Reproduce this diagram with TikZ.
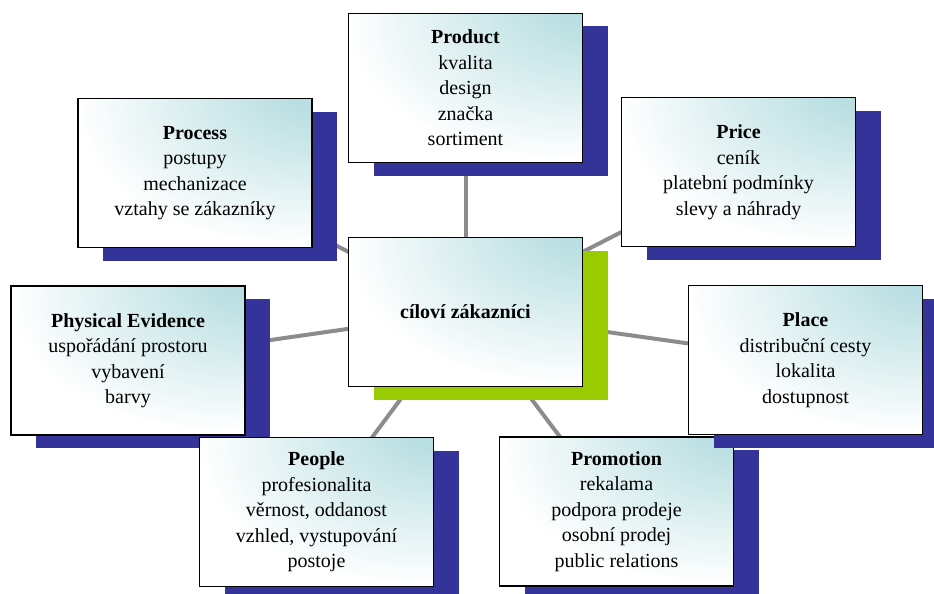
\documentclass[tikz,border=0pt]{standalone}
\usepackage{fontspec}
\setmainfont{Liberation Serif}
\usetikzlibrary{shadows,backgrounds}
\definecolor{boxteal}{RGB}{186,223,226}
\definecolor{shblue}{RGB}{51,51,153}
\definecolor{shgreen}{RGB}{153,204,0}
\definecolor{conngray}{RGB}{140,140,140}
\pgfdeclareradialshading{boxshade}{\pgfpoint{34bp}{36bp}}{color(0bp)=(boxteal); color(12bp)=(boxteal); color(44bp)=(white); color(100bp)=(white)}
\tikzset{
  mbox/.style={draw=black, line width=1.5pt, shading=boxshade,
    minimum width=234pt, minimum height=149pt, inner sep=2pt,
    align=center, font=\fontsize{20}{25.5}\selectfont,
    drop shadow={shadow xshift=25pt, shadow yshift=-13pt, fill=#1, opacity=1}},
  mbox/.default=shblue,
  conn/.style={draw=conngray, line width=4pt}
}
\begin{document}
\begin{tikzpicture}[x=1pt,y=-1pt]
\useasboundingbox (0,0) rectangle (934,594);
\node[mbox] (product) at (465.5,88) {\textbf{Product}\\kvalita\\design\\značka\\sortiment};
\node[mbox] (price) at (738.5,172) {\textbf{Price}\\ceník\\platební podmínky\\slevy a náhrady};
\node[mbox] (process) at (195,173) {\textbf{Process}\\postupy\\mechanizace\\vztahy se zákazníky};
\node[mbox] (phys) at (128,360.5) {\textbf{Physical Evidence}\\uspořádání prostoru\\vybavení\\barvy};
\node[mbox] (people) at (316.5,512) {\textbf{People}\\profesionalita\\věrnost, oddanost\\vzhled, vystupování\\postoje};
\node[mbox] (promo) at (616.5,511.5) {\textbf{Promotion}\\rekalama\\podpora prodeje\\osobní prodej\\public relations};
\node[mbox] (place) at (805.5,360) {\textbf{Place}\\distribuční cesty\\lokalita\\dostupnost};
\node[mbox=shgreen] (center) at (465.5,312) {\textbf{cíloví zákazníci}};
\begin{scope}[on background layer]
\foreach \n in {product,price,process,phys,people,promo,place}
  \draw[conn] (center.center) -- (\n.center);
\end{scope}
\end{tikzpicture}
\end{document}
